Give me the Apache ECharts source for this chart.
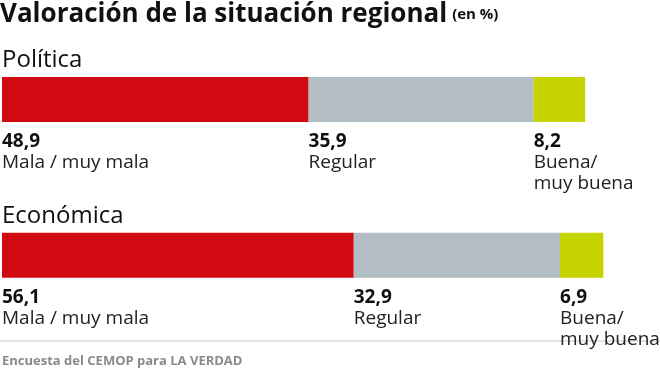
<!DOCTYPE html>
<html><head><meta charset="utf-8">
<script src="https://cdn.jsdelivr.net/npm/echarts@6/dist/echarts.min.js"></script>
<style>html,body{margin:0;padding:0;background:#fff}#c{width:660px;height:371px}</style>
</head><body><div id="c"></div>
<script>
const categories = ['Política', 'Económica'];
const mala = [48.9, 56.1];
const regular = [35.9, 32.9];
const buena = [8.2, 6.9];
const seriesNames = ['Mala / muy mala', 'Regular', 'Buena/\nmuy buena'];
const colors = ['#d10a11', '#b2bdc4', '#c5d400'];
const FONT = '"Open Sans", "Noto Sans", sans-serif';

function fmt(v){ return v.toFixed(1).replace('.', ','); }

const chart = echarts.init(document.getElementById('c'), null, {renderer:'canvas'});
function mk(name, data, color){
  return {
    type:'bar', stack:'t', name: name, data: data, barWidth: 45,
    itemStyle:{color: color, borderColor:'#fff', borderWidth:0},
    label:{
      show:true, position:[0, 54], align:'left', verticalAlign:'top',
      formatter: p => '{v|' + fmt(p.value) + '}\n{n|' + name.split('\n').join('}\n{n|') + '}',
      rich:{
        v:{fontFamily:FONT, fontWeight:'bold', fontSize:19, color:'#111', lineHeight:21},
        n:{fontFamily:FONT, fontSize:19, color:'#222', lineHeight:21}
      }
    }
  };
}
chart.setOption({
  animation:false,
  title:{
    text:'{a|Valoración de la situación regional} {b|(en %)}',
    left:0, top:2, padding:0,
    textStyle:{rich:{
      a:{fontFamily:FONT, fontWeight:'bold', fontSize:26, color:'#111'},
      b:{fontFamily:FONT, fontWeight:'bold', fontSize:15, color:'#111'}
    }}
  },
  grid:{left:2, right:31, top:21.5, bottom:38, outerBoundsMode:'none', containLabel:false},
  xAxis:{type:'value', min:0, max:100, show:false},
  yAxis:{type:'category', data:categories, inverse:true,
    axisLine:{show:false}, axisTick:{show:false}, splitLine:{show:false},
    axisLabel:{inside:true, margin:0, align:'left', verticalAlign:'bottom',
      padding:[0,0,27,0],
      fontFamily:FONT, fontSize:24, color:'#111'}
  },
  series:[mk(seriesNames[0], mala, colors[0]), mk(seriesNames[1], regular, colors[1]), mk(seriesNames[2], buena, colors[2])],
  graphic:[
    {type:'line', shape:{x1:0, y1:341, x2:660, y2:341}, style:{stroke:'#c8c8c8', lineWidth:1}},
    {type:'text', left:2, top:355, style:{text:'Encuesta del CEMOP para LA VERDAD', fontFamily:FONT, fontWeight:'bold', fontSize:13, fill:'#8a8a8a'}}
  ]
});
</script></body></html>
